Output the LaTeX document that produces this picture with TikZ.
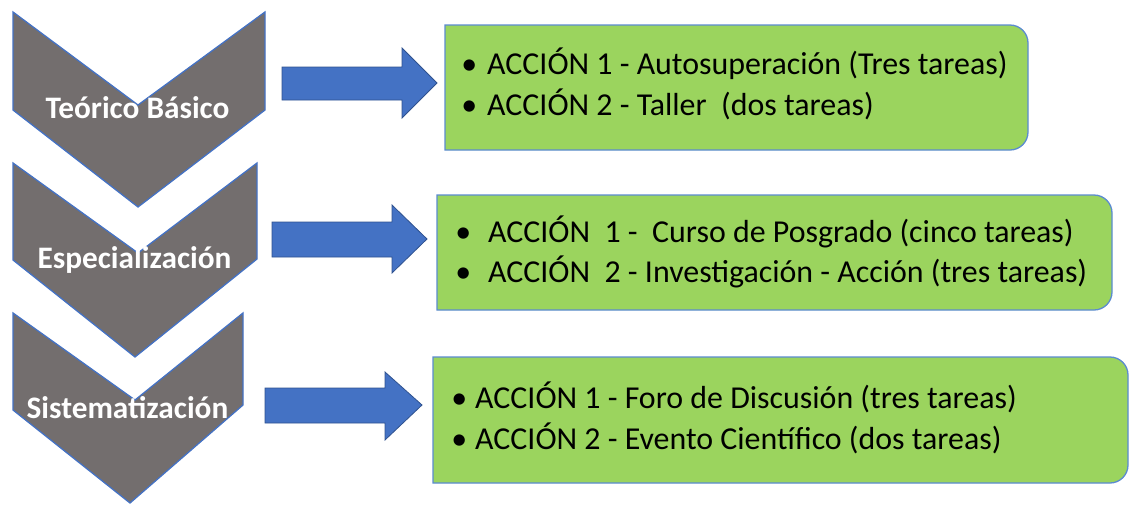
\documentclass[tikz,border=0pt]{standalone}
\usepackage{fontspec}
\setmainfont{Carlito}
\definecolor{chevgrey}{RGB}{115,110,110}
\definecolor{olblue}{RGB}{68,114,196}
\definecolor{arrowedge}{RGB}{47,82,143}
\definecolor{boxgreen}{RGB}{155,212,94}
\definecolor{boxedge}{RGB}{91,139,208}
\tikzset{
  chevron/.style={fill=chevgrey, draw=olblue, line width=1.3pt, line join=miter},
  blockarrow/.style={fill=olblue, draw=arrowedge, line width=0.8pt},
  greenbox/.style={fill=boxgreen, draw=boxedge, line width=1.3pt},
  phase/.style={text=white, font=\bfseries\fontsize{31.3}{36}\selectfont, inner sep=0pt, anchor=base},
  item/.style={font=\fontsize{31.9}{38}\selectfont, inner sep=0pt, anchor=base west, text=black},
}
\begin{document}
\begin{tikzpicture}[x=1pt,y=-1pt]
\useasboundingbox (0,0) rectangle (1130,504);
% chevrons
\draw[chevron] (13,12) -- (138,105) -- (265,12) -- (265,110) -- (138,207) -- (13,110) -- cycle;
\draw[chevron] (13,163) -- (138,253) -- (257,163) -- (257,259) -- (135,357) -- (13,260) -- cycle;
\draw[chevron] (13,313) -- (135,400) -- (243,313) -- (243,405) -- (130,503) -- (13,410) -- cycle;
\node[phase] (p1) at (137.5,118) {Teórico Básico};
\node[phase] (p2) at (134.5,268) {Especialización};
\node[phase] (p3) at (127.5,418) {Sistematización};
% block arrows
\draw[blockarrow] (282,67) -- (402,67) -- (402,48) -- (437,83) -- (402,118) -- (402,100) -- (282,100) -- cycle;
\draw[blockarrow] (272,222) -- (392,222) -- (392,205) -- (427,239) -- (392,273) -- (392,257) -- (272,257) -- cycle;
\draw[blockarrow] (265,388) -- (385,388) -- (385,372) -- (422,405) -- (385,440) -- (385,423) -- (265,423) -- cycle;
% green boxes (right corners rounded)
\draw[greenbox] (445,25) -- (1010,25) arc[start angle=-90,end angle=0,radius=18] -- (1028,132) arc[start angle=0,end angle=90,radius=18] -- (445,150) -- cycle;
\draw[greenbox] (437,195) -- (1094,195) arc[start angle=-90,end angle=0,radius=18] -- (1112,292) arc[start angle=0,end angle=90,radius=18] -- (437,310) -- cycle;
\draw[greenbox] (433,357) -- (1110,357) arc[start angle=-90,end angle=0,radius=18] -- (1128,465) arc[start angle=0,end angle=90,radius=18] -- (433,483) -- cycle;
% texts
\node[item] (a11) at (487,74) {\llap{\textbullet\hspace{10pt}}ACCIÓN 1 - Autosuperación (Tres tareas)};
\node[item] (a12) at (487,115) {\llap{\textbullet\hspace{10pt}}ACCIÓN 2 - Taller\ \ (dos tareas)};
\node[item] (a21) at (488,242) {\llap{\textbullet\hspace{17pt}}ACCIÓN\ \ 1 -\ \ Curso de Posgrado (cinco tareas)};
\node[item] (a22) at (488,282) {\llap{\textbullet\hspace{17pt}}ACCIÓN\ \ 2 - Investigación - Acción (tres tareas)};
\node[item] (a31) at (475,408) {\llap{\textbullet\hspace{8pt}}ACCIÓN 1 - Foro de Discusión (tres tareas)};
\node[item] (a32) at (475,449) {\llap{\textbullet\hspace{8pt}}ACCIÓN 2 - Evento Científico (dos tareas)};
\end{tikzpicture}
\end{document}
